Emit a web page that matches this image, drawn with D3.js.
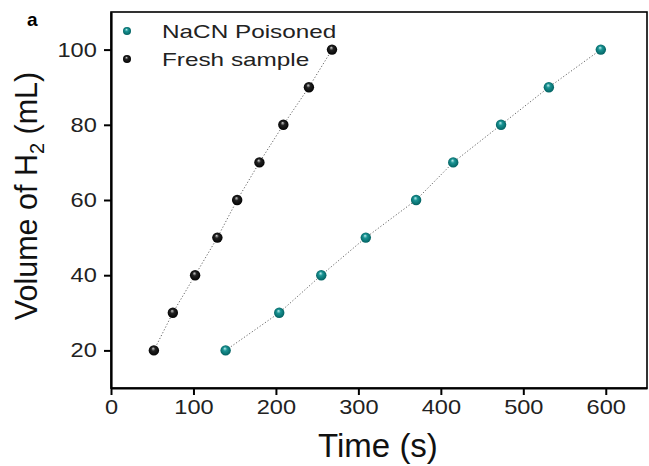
<!DOCTYPE html>
<html>
<head>
<meta charset="utf-8">
<script src="https://cdn.jsdelivr.net/npm/d3@7"></script>
<style>
  body { margin: 0; background: #fff; }
  svg { display: block; font-family: "Liberation Sans", Arial, sans-serif; }
</style>
</head>
<body>
<svg id="chart" width="649" height="466"></svg>
<script>
// volume steps (mL), same for both runs
var volumes = [20, 30, 40, 50, 60, 70, 80, 90, 100];
// time (s)
var freshTimes = [52, 75, 102, 129, 153, 180, 209, 240, 268];
var poisonedTimes = [139, 204, 255, 309, 370, 415, 473, 531, 594];
var xTicks = [0, 100, 200, 300, 400, 500, 600];
var yTicks = [20, 40, 60, 80, 100];
var seriesNames = ["NaCN Poisoned", "Fresh sample"];

var svg = d3.select("#chart");
// plot box (note: "top" is taken by window.top)
var pLeft = 111, pRight = 647, pTop = 12, pBottom = 388;

var x = d3.scaleLinear().domain([0, 650]).range([pLeft, pRight]);
var y = d3.scaleLinear().domain([10, 110]).range([pBottom, pTop]);

// sphere look for markers
var defs = svg.append("defs");
var makeGrad = function(id, light, mid, dark){
  var g = defs.append("radialGradient").attr("id", id)
    .attr("cx", "50%").attr("cy", "50%").attr("r", "55%")
    .attr("fx", "42%").attr("fy", "30%");
  g.append("stop").attr("offset", "0%").attr("stop-color", light);
  g.append("stop").attr("offset", "35%").attr("stop-color", mid);
  g.append("stop").attr("offset", "100%").attr("stop-color", dark);
};
makeGrad("gTeal", "#bfeeee", "#1a9494", "#005c5c");
makeGrad("gBlack", "#d0d0d0", "#222", "#000");

var series = [
  { name: seriesNames[0], times: poisonedTimes, fill: "url(#gTeal)" },
  { name: seriesNames[1], times: freshTimes, fill: "url(#gBlack)" }
];

// frame
svg.append("rect")
  .attr("x", pLeft).attr("y", pTop)
  .attr("width", pRight - pLeft).attr("height", pBottom - pTop)
  .attr("fill", "none").attr("stroke", "#000").attr("stroke-width", 1.6);

var xAxis = svg.append("g")
  .attr("transform", "translate(0," + pBottom + ")")
  .call(d3.axisBottom(x).tickValues(xTicks).tickSize(7).tickSizeOuter(0).tickPadding(8));
var yAxis = svg.append("g")
  .attr("transform", "translate(" + pLeft + ",0)")
  .call(d3.axisLeft(y).tickValues(yTicks).tickSize(7).tickSizeOuter(0).tickPadding(8));

[xAxis, yAxis].forEach(function(ax){
  ax.select(".domain").attr("stroke-width", 2.2);
  ax.selectAll(".tick line").attr("stroke-width", 2);
  ax.selectAll(".tick text")
    .attr("font-size", 20)
    .attr("fill", "#222")
    .attr("font-family", "Liberation Sans, Arial, sans-serif");
});
xAxis.selectAll(".tick text").attr("transform", "scale(1.18,1)").attr("y", 12);
yAxis.selectAll(".tick text").attr("transform", "scale(1.18,1)").attr("x", -12);

// dotted connecting lines
var line = d3.line()
  .x(function(d){ return x(d[0]); })
  .y(function(d){ return y(d[1]); });

series.forEach(function(s){
  var pts = s.times.map(function(t, i){ return [t, volumes[i]]; });
  svg.append("path")
    .datum(pts)
    .attr("d", line)
    .attr("fill", "none")
    .attr("stroke", "#666")
    .attr("stroke-width", 1)
    .attr("stroke-dasharray", "1.2,2");
  svg.append("g").selectAll("circle")
    .data(pts)
    .enter()
    .append("circle")
    .attr("cx", function(d){ return x(d[0]); })
    .attr("cy", function(d){ return y(d[1]); })
    .attr("r", 5.2)
    .attr("fill", s.fill);
});

// legend
var legend = svg.append("g");
series.forEach(function(s, i){
  var ly = 31 + i * 28;
  legend.append("circle").attr("cx", 127).attr("cy", ly).attr("r", 4).attr("fill", s.fill);
  legend.append("text")
    .attr("transform", "translate(162," + (ly + 6.5) + ") scale(1.28,1)")
    .attr("font-size", 19)
    .attr("fill", "#222")
    .text(s.name);
});

// axis titles
svg.append("text")
  .attr("x", 378).attr("y", 457)
  .attr("text-anchor", "middle")
  .attr("font-size", 33)
  .attr("fill", "#111")
  .text("Time (s)");

var yl = svg.append("text")
  .attr("transform", "translate(37,196) rotate(-90)")
  .attr("text-anchor", "middle")
  .attr("font-size", 30.5)
  .attr("fill", "#111");
yl.append("tspan").text("Volume of H");
yl.append("tspan").attr("font-size", 20).attr("dy", 7).text("2");
yl.append("tspan").attr("dy", -7).text(" (mL)");

svg.append("text")
  .attr("x", 27).attr("y", 26)
  .attr("font-size", 19)
  .attr("font-weight", "bold")
  .text("a");
</script>
</body>
</html>
